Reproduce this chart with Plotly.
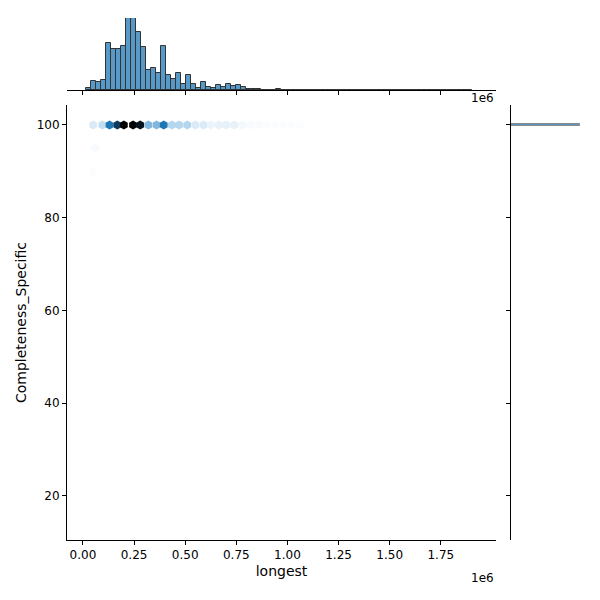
import plotly.graph_objects as go
import numpy as np

bin_start = 15000
bin_width = 24500
hist_counts = [7,27,23,29,138,120,122,131,213,213,173,128,59,65,50,129,44,33,51,18,44,18,6,24,8,5,14,8,17,12,14,8,3,3,3,0,0,0,3,0,0,0,0,0,0,0,0,0,0,0,0,0,0,0,0,0,0,0,0,0,0,0,0,0,0,0,0,0,0,0,0,0,0,0,0,0,1]

hex_x = [0.05e6,0.095e6,0.13e6,0.168e6,0.20e6,0.245e6,0.28e6,0.32e6,0.36e6,0.395e6,0.435e6,0.47e6,0.51e6,0.55e6,0.59e6,0.625e6,0.665e6,0.70e6,0.74e6,0.78e6,0.82e6,0.86e6,0.90e6,0.94e6,0.98e6,1.02e6,1.06e6]
hex_y = [100]*len(hex_x)
hex_c = [0.15,0.25,0.7,0.85,1.0,1.0,0.95,0.45,0.45,0.7,0.3,0.3,0.3,0.15,0.15,0.08,0.1,0.1,0.1,0.05,0.03,0.03,0.02,0.02,0.02,0.02,0.015]
low_x = [0.06e6,0.05e6]
low_y = [95,90]
low_c = [0.03,0.015]

yticks = [20,40,60,80,100]
xticks = [0,0.25e6,0.5e6,0.75e6,1.0e6,1.25e6,1.5e6,1.75e6]
xlabels = ["0.00","0.25","0.50","0.75","1.00","1.25","1.50","1.75"]

centers = [bin_start + bin_width*(i+0.5) for i in range(len(hist_counts))]
cs = [[0,'#ffffff'],[0.35,'#a9cfec'],[0.7,'#1f77b4'],[0.85,'#0e3a5e'],[1,'#000000']]

fig = go.Figure()
fig.add_trace(go.Scatter(x=hex_x+low_x, y=hex_y+low_y, mode='markers',
    marker=dict(symbol='hexagon', size=9, color=hex_c+low_c, colorscale=cs, cmin=0, cmax=1, line=dict(width=0)),
    xaxis='x', yaxis='y', showlegend=False))
fig.add_trace(go.Bar(x=centers, y=hist_counts, width=bin_width, marker=dict(color='rgba(31,119,180,0.75)', line=dict(color='#333', width=1)),
    xaxis='x2', yaxis='y2', showlegend=False))
fig.add_trace(go.Bar(y=[100], x=[1], width=0.5, orientation='h', marker=dict(color='rgba(31,119,180,0.75)', line=dict(color='#888', width=1)),
    xaxis='x3', yaxis='y3', showlegend=False))

xr = [-0.078e6, 2.02e6]
yr = [10.5, 104.3]
ax = dict(showgrid=False, zeroline=False, ticks='outside', showline=True, linecolor='black', tickcolor='black', ticklen=4, automargin=False)
fig.update_layout(
    width=600, height=600, plot_bgcolor='white', paper_bgcolor='white',
    margin=dict(l=0, r=0, t=0, b=0), bargap=0,
    font=dict(family='DejaVu Sans', size=12, color='black'),
    xaxis=dict(ax, domain=[59/600, 488/600], range=xr, tickvals=xticks, ticktext=xlabels, anchor='y',
               title=dict(text='longest', standoff=4)),
    yaxis=dict(ax, domain=[68/600, 503/600], range=yr, tickvals=yticks, anchor='x',
               title=dict(text='Completeness_Specific', standoff=6)),
    xaxis2=dict(ax, domain=[59/600, 488/600], range=xr, tickvals=xticks, showticklabels=False, anchor='y2'),
    yaxis2=dict(domain=[518/600, 590/600], range=[0, 213], visible=False, anchor='x2'),
    xaxis3=dict(domain=[503/600, 572/600], range=[0, 1.0], visible=False, anchor='y3'),
    yaxis3=dict(ax, domain=[68/600, 503/600], range=yr, tickvals=yticks, showticklabels=False, anchor='x3'),
    annotations=[
        dict(text='1e6', x=488/600, y=519/600, xref='paper', yref='paper', showarrow=False, xanchor='right', yanchor='top'),
        dict(text='1e6', x=488/600, y=39/600, xref='paper', yref='paper', showarrow=False, xanchor='right', yanchor='top'),
    ])
fig.write_html('out.html')
